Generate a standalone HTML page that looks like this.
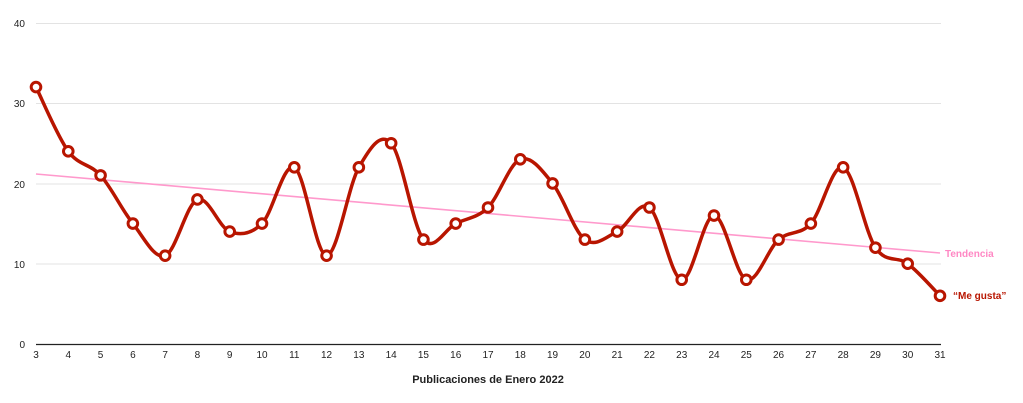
<!DOCTYPE html>
<html><head><meta charset="utf-8"><style>
html,body{margin:0;padding:0;background:#fff;}
svg{display:block;font-family:"Liberation Sans",Arial,sans-serif;}
</style></head><body>
<svg id="c" width="1023" height="403" viewBox="0 0 1023 403" xmlns="http://www.w3.org/2000/svg">
<g stroke="#e3e3e3" stroke-width="1">
<line x1="36" y1="23.5" x2="941" y2="23.5"/>
<line x1="36" y1="103.5" x2="941" y2="103.5"/>
<line x1="36" y1="184" x2="941" y2="184"/>
<line x1="36" y1="264" x2="941" y2="264"/>
</g>
<line x1="36" y1="344.5" x2="941" y2="344.5" stroke="#222" stroke-width="1.2"/>
<g font-size="10" fill="#222" text-anchor="end">
<text x="25" y="27">40</text><text x="25" y="107">30</text><text x="25" y="188">20</text><text x="25" y="268">10</text><text x="25" y="348">0</text>
</g>
<g id="xl" font-size="10" fill="#222" text-anchor="middle"></g>
<text x="488" y="383" font-size="11" font-weight="bold" fill="#222" text-anchor="middle">Publicaciones de Enero 2022</text>
<line x1="36" y1="174" x2="940" y2="253" stroke="#ff99cc" stroke-width="1.6"/>
<text x="945" y="257" font-size="10" font-weight="bold" fill="#ff88c4">Tendencia</text>
<path id="p" fill="none" stroke="#b81500" stroke-width="3.5" stroke-linejoin="round"/>
<g id="pts"></g>
<text x="953" y="299" font-size="10" font-weight="bold" fill="#b81500">“Me gusta”</text>
</svg>
<script>
var d=[32,24,21,15,11,18,14,15,22,11,22,25,13,15,17,23,20,13,14,17,8,16,8,13,15,22,12,10,6];
var P=d.map(function(v,i){return [36+i*904/28,344-v*8.03];});
var s="M"+P[0][0]+","+P[0][1];
for(var i=0;i<P.length-1;i++){
 var p0=P[i-1]||P[i],p1=P[i],p2=P[i+1],p3=P[i+2]||P[i+1];
 var c1=[p1[0]+(p2[0]-p0[0])/6,p1[1]+(p2[1]-p0[1])/6];
 var c2=[p2[0]-(p3[0]-p1[0])/6,p2[1]-(p3[1]-p1[1])/6];
 s+=" C"+c1+" "+c2+" "+p2;
}
document.getElementById("p").setAttribute("d",s);
var ns="http://www.w3.org/2000/svg",g=document.getElementById("pts"),xl=document.getElementById("xl");
P.forEach(function(p,i){
 var c=document.createElementNS(ns,"circle");
 c.setAttribute("cx",p[0]);c.setAttribute("cy",p[1]);c.setAttribute("r",4.8);
 c.setAttribute("fill","#fff");c.setAttribute("stroke","#b81500");c.setAttribute("stroke-width",3);
 g.appendChild(c);
 var t=document.createElementNS(ns,"text");
 t.setAttribute("x",p[0]);t.setAttribute("y",358);t.textContent=i+3;xl.appendChild(t);
});
</script>
</body></html>
